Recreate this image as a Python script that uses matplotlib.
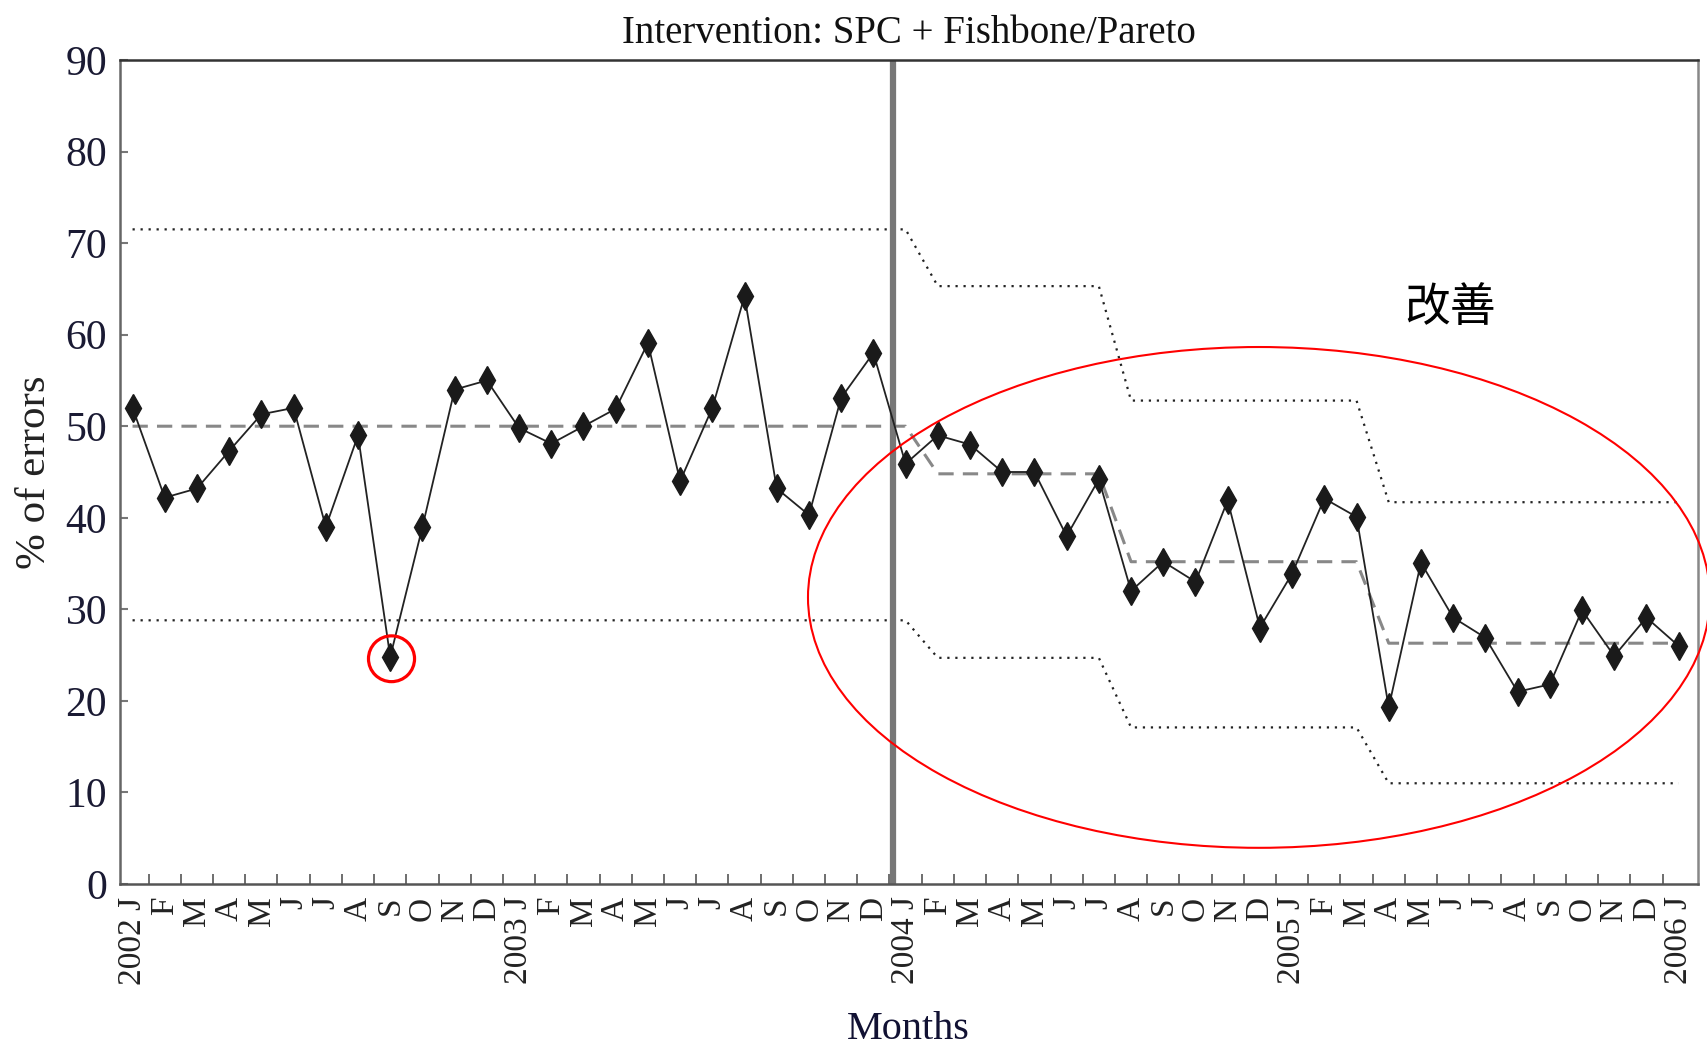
import numpy as np
import matplotlib
matplotlib.use("Agg")
import matplotlib.pyplot as plt
from matplotlib.patches import Ellipse

# ---- data ----
month_labels = ['2002 J', 'F', 'M', 'A', 'M', 'J', 'J', 'A', 'S', 'O', 'N', 'D',
                '2003 J', 'F', 'M', 'A', 'M', 'J', 'J', 'A', 'S', 'O', 'N', 'D',
                '2004 J', 'F', 'M', 'A', 'M', 'J', 'J', 'A', 'S', 'O', 'N', 'D',
                '2005 J', 'F', 'M', 'A', 'M', 'J', 'J', 'A', 'S', 'O', 'N', 'D',
                '2006 J']
pct_errors = [52, 42.2, 43.2, 47.3, 51.3, 52, 39, 49, 24.8, 39, 54, 55,
              49.8, 48.1, 50, 51.9, 59.1, 44, 52, 64.2, 43.2, 40.3, 53.1, 58,
              45.9, 49, 48, 45, 45, 38, 44.2, 32, 35.2, 33, 41.9, 28,
              33.9, 42.1, 40.1, 19.3, 35.1, 29.1, 26.9, 21, 21.8, 29.9, 24.9, 29.1,
              26]
segment_start = [0, 25, 31, 39]
segment_end = [24, 30, 38, 48]
center_line = [50.0, 44.8, 35.2, 26.3]
upper_limit = [71.5, 65.3, 52.8, 41.7]
lower_limit = [28.8, 24.7, 17.1, 11.0]
intervention_at = 23.6

x = np.arange(len(month_labels))

def per_point(vals):
    out = np.empty(len(month_labels))
    for s, e, v in zip(segment_start, segment_end, vals):
        out[s:e + 1] = v
    return out

cl = per_point(center_line)
ucl = per_point(upper_limit)
lcl = per_point(lower_limit)

serif = ['Liberation Serif', 'DejaVu Serif']
fig = plt.figure(figsize=(17.07, 10.47), dpi=100)
ax = fig.add_axes([0.0701, 0.1557, 0.9246, 0.787])

ax.plot(x, ucl, color='#222222', lw=1.6, linestyle=(0, (1, 2.6)))
ax.plot(x, lcl, color='#222222', lw=1.6, linestyle=(0, (1, 2.6)))
ax.plot(x, cl, color='#888888', lw=2.2, linestyle=(0, (5, 3)))
ax.axvline(intervention_at, color='#777777', lw=4.5)
ax.plot(x, pct_errors, color='#222222', lw=1.3, marker='d', markersize=14,
        markerfacecolor='#1a1a1a', markeredgecolor='#1a1a1a')

# annotations
ax.add_patch(Ellipse((8.04, 24.6), 1.43, 5.0, fill=False, edgecolor='red',
                     lw=2.3, clip_on=False, zorder=5))
ax.add_patch(Ellipse((34.97, 31.3), 28.0, 54.7, fill=False, edgecolor='red',
                     lw=1.5, clip_on=False, zorder=5))
ax.text(40.9, 62.9, '改善', fontsize=33, ha='center', va='center',
        family=['Noto Sans CJK SC', 'DejaVu Sans'], color='black')

ax.set_xlim(-0.4, 48.6)
ax.set_ylim(0, 90)
ax.set_xticks(x)
ax.set_xticklabels(month_labels, rotation=90, family=serif, fontsize=24,
                   color='#222222', va='top', ha='center')
ax.set_xticks(x[:-1] + 0.5, minor=True)
ax.tick_params(axis='x', which='major', length=0, pad=9)
ax.tick_params(axis='x', which='minor', direction='in', length=7,
               color='#555555', width=1.2)
ax.set_yticks(range(0, 91, 10))
ax.set_yticklabels([str(v) for v in range(0, 91, 10)], family=serif,
                   fontsize=30, color='#1a1a33')
ax.tick_params(axis='y', direction='in', length=6, color='#777777', width=1.5,
               pad=9)

for side, c in [('left', '#666666'), ('bottom', '#555555'),
                ('top', '#333333'), ('right', '#888888')]:
    ax.spines[side].set_color(c)
    ax.spines[side].set_linewidth(1.8)

ax.set_title('Intervention: SPC + Fishbone/Pareto', family=serif,
             fontsize=28, color='#111111', pad=12)
ax.set_xlabel('Months', family=serif, fontsize=29, color='#111133', labelpad=19)
ax.set_ylabel('% of errors', family=serif, fontsize=31, color='#222222',
              labelpad=8)

fig.savefig('out.png', dpi=100)
